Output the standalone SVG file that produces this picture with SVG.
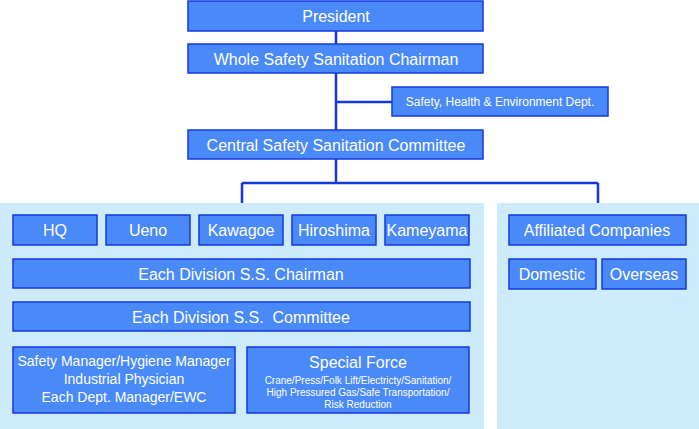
<svg xmlns="http://www.w3.org/2000/svg" width="699" height="429" viewBox="0 0 699 429">
<style>
.b{fill:#4a8af8;stroke:#1438e0;stroke-width:1.5}
.p{fill:#cdebfb}
text{font-family:"Liberation Sans",Arial,sans-serif;fill:#fff;text-anchor:middle}
.l{font-size:16px}.m{font-size:14px}.s{font-size:12px}.t{font-size:10px}
.c{stroke:#1438e0;stroke-width:2.5;fill:none}
</style>
<rect class="p" x="0" y="203" width="484" height="226"/>
<rect class="p" x="497" y="203" width="202" height="226"/>
<g id="connectors">
<path class="c" d="M336,31V130M336,102H392M336,159V183M242,183H598M242,183V203M598,183V203"/>
</g>
<g id="president"><rect class="b" x="188" y="1" width="295" height="30"/><text class="l" x="336" y="22">President</text></g>
<g id="chairman"><rect class="b" x="188" y="44" width="295" height="29"/><text class="l" x="336" y="65">Whole Safety Sanitation Chairman</text></g>
<g id="she"><rect class="b" x="392" y="87" width="216" height="29"/><text class="s" x="500" y="106">Safety, Health &amp; Environment Dept.</text></g>
<g id="central"><rect class="b" x="188" y="130" width="295" height="29"/><text class="l" x="336" y="151">Central Safety Sanitation Committee</text></g>
<g id="hq"><rect class="b" x="13" y="215" width="84" height="30"/><text class="l" x="55" y="236">HQ</text></g>
<g id="ueno"><rect class="b" x="106" y="215" width="84" height="30"/><text class="l" x="148" y="236">Ueno</text></g>
<g id="kawagoe"><rect class="b" x="199" y="215" width="84" height="30"/><text class="l" x="241" y="236">Kawagoe</text></g>
<g id="hiroshima"><rect class="b" x="292" y="215" width="84" height="30"/><text class="l" x="334" y="236">Hiroshima</text></g>
<g id="kameyama"><rect class="b" x="385" y="215" width="84" height="30"/><text class="l" x="427" y="236">Kameyama</text></g>
<g id="div-chairman"><rect class="b" x="13" y="259" width="457" height="29"/><text class="l" x="241" y="280">Each Division S.S. Chairman</text></g>
<g id="div-committee"><rect class="b" x="13" y="302" width="457" height="29"/><text class="l" x="241" y="323" xml:space="preserve">Each Division S.S.  Committee</text></g>
<g id="managers"><rect class="b" x="13" y="347" width="222" height="66"/><text class="m" x="124" y="366">Safety Manager/Hygiene Manager</text><text class="m" x="124" y="384">Industrial Physician</text><text class="m" x="124" y="402">Each Dept. Manager/EWC</text></g>
<g id="special"><rect class="b" x="247" y="347" width="222" height="66"/><text class="l" x="358" y="368">Special Force</text><text class="t" x="358" y="384">Crane/Press/Folk Lift/Electricty/Sanitation/</text><text class="t" x="358" y="396">High Pressured Gas/Safe Transportation/</text><text class="t" x="358" y="408">Risk Reduction</text></g>
<g id="affiliated"><rect class="b" x="509" y="215" width="177" height="30"/><text class="l" x="597" y="236">Affiliated Companies</text></g>
<g id="domestic"><rect class="b" x="509" y="259" width="87" height="30"/><text class="l" x="552" y="280">Domestic</text></g>
<g id="overseas"><rect class="b" x="602" y="259" width="84" height="30"/><text class="l" x="644" y="280">Overseas</text></g>
</svg>
